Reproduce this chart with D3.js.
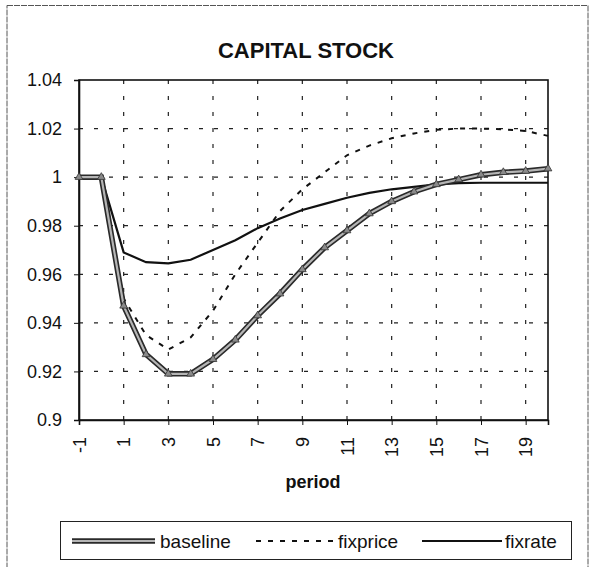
<!DOCTYPE html>
<html>
  <head>
    <meta charset="utf-8">
    <title>Capital Stock</title>
    <script src="https://d3js.org/d3.v7.min.js"></script>
    <style>
      body { margin: 0; background: #fff; }
      text { font-family: "Liberation Sans", Arial, sans-serif; fill: #111; }
    </style>
  </head>
  <body>
    <svg width="591" height="567"></svg>

    <script>
      // data
      const periods = [-1, 0, 1, 2, 3, 4, 5, 6, 7, 8, 9, 10, 11, 12, 13, 14, 15, 16, 17, 18, 19, 20];
      const baseline = [1, 1, 0.947, 0.927, 0.919, 0.919, 0.925, 0.933, 0.943, 0.952, 0.962, 0.971,
                        0.978, 0.985, 0.990, 0.994, 0.997, 0.999, 1.001, 1.002, 1.0025, 1.0035];
      const fixprice = [1, 1, 0.950, 0.935, 0.929, 0.934, 0.945, 0.960, 0.973, 0.986, 0.995, 1.002,
                        1.009, 1.013, 1.016, 1.018, 1.0195, 1.020, 1.020, 1.0197, 1.019, 1.017];
      const fixrate = [1, 1, 0.969, 0.965, 0.9645, 0.966, 0.970, 0.974, 0.979, 0.983, 0.9865, 0.989,
                       0.9915, 0.9935, 0.995, 0.996, 0.997, 0.9975, 0.9977, 0.9977, 0.9977, 0.9977];
      const xTickLabels = [-1, 1, 3, 5, 7, 9, 11, 13, 15, 17, 19];
      const yTicks = [0.9, 0.92, 0.94, 0.96, 0.98, 1, 1.02, 1.04];
      const gridY = [0.92, 0.94, 0.96, 0.98, 1, 1.02];
      const gridX = [1, 3, 5, 7, 9, 11, 13, 15, 17, 19];
      const legendNames = ["baseline", "fixprice", "fixrate"];

      const svg = d3.select("svg");

      const x = d3.scaleLinear().domain([-1, 20]).range([79, 548]);
      const y = d3.scaleLinear().domain([0.9, 1.04]).range([420, 80]);

      // outer frame of the scanned figure
      svg.append("rect")
        .attr("x", 7).attr("y", 5.5).attr("width", 581).attr("height", 600)
        .attr("fill", "none").attr("stroke", "#555").attr("stroke-width", 1)
        .attr("stroke-dasharray", "6,1");

      // title
      svg.append("text")
        .attr("x", 306).attr("y", 58)
        .attr("text-anchor", "middle")
        .attr("font-size", 22).attr("font-weight", "bold")
        .text("CAPITAL STOCK");

      // gridlines
      svg.append("g").selectAll("line").data(gridY).join("line")
        .attr("x1", x(-1)).attr("x2", x(20))
        .attr("y1", d => y(d)).attr("y2", d => y(d))
        .attr("stroke", "#222").attr("stroke-width", 1.2)
        .attr("stroke-dasharray", "4,11");
      svg.append("g").selectAll("line").data(gridX).join("line")
        .attr("x1", d => x(d)).attr("x2", d => x(d))
        .attr("y1", y(1.04)).attr("y2", y(0.9))
        .attr("stroke", "#222").attr("stroke-width", 1.2)
        .attr("stroke-dasharray", "4,12");

      // plot frame
      svg.append("rect")
        .attr("x", x(-1)).attr("y", y(1.04))
        .attr("width", x(20) - x(-1)).attr("height", y(0.9) - y(1.04))
        .attr("fill", "none").attr("stroke", "#111").attr("stroke-width", 1.6);

      // y axis
      const yAxis = d3.axisLeft(y).tickValues(yTicks).tickSize(5).tickPadding(12)
        .tickFormat(d => String(d));
      const gy = svg.append("g").attr("transform", `translate(${x(-1)},0)`).call(yAxis);
      gy.select(".domain").attr("stroke", "#111").attr("stroke-width", 1.6);
      gy.selectAll(".tick line").attr("stroke", "#111");
      gy.selectAll("text").attr("font-size", 18).attr("font-family", "Liberation Sans, Arial, sans-serif");

      // x axis (rotated labels)
      const xAxis = d3.axisBottom(x).tickValues(xTickLabels).tickSize(5).tickPadding(0)
        .tickFormat(d => String(d));
      const gx = svg.append("g").attr("transform", `translate(0,${y(0.9)})`).call(xAxis);
      gx.select(".domain").attr("stroke", "#111").attr("stroke-width", 1.6);
      gx.selectAll(".tick line").attr("stroke", "#111");
      gx.selectAll("text")
        .attr("font-size", 18).attr("font-family", "Liberation Sans, Arial, sans-serif")
        .attr("text-anchor", "end")
        .attr("transform", "translate(0,17) rotate(-90)")
        .attr("x", 0).attr("y", 0).attr("dy", "0.35em");

      svg.append("text")
        .attr("x", 313).attr("y", 488)
        .attr("text-anchor", "middle")
        .attr("font-size", 18).attr("font-weight", "bold")
        .text("period");

      const line = d3.line().x((d, i) => x(periods[i])).y(d => y(d));

      // fixrate: solid
      svg.append("path").datum(fixrate)
        .attr("d", line).attr("fill", "none")
        .attr("stroke", "#111").attr("stroke-width", 2.2);

      // fixprice: dashed
      svg.append("path").datum(fixprice)
        .attr("d", line).attr("fill", "none")
        .attr("stroke", "#111").attr("stroke-width", 2)
        .attr("stroke-dasharray", "5,7");

      // baseline: thick double line with triangle markers
      svg.append("path").datum(baseline)
        .attr("d", line).attr("fill", "none")
        .attr("stroke", "#2a2a2a").attr("stroke-width", 5.5);
      svg.append("path").datum(baseline)
        .attr("d", line).attr("fill", "none")
        .attr("stroke", "#b5b5b5").attr("stroke-width", 2.2);
      svg.append("g").selectAll("path").data(baseline).join("path")
        .attr("d", d3.symbol(d3.symbolTriangle, 26))
        .attr("transform", (d, i) => `translate(${x(periods[i])},${y(d)})`)
        .attr("fill", "#8a8a8a").attr("stroke", "#333").attr("stroke-width", 0.8);

      // legend
      const lg = svg.append("g");
      lg.append("rect")
        .attr("x", 60.5).attr("y", 521.5).attr("width", 511).attr("height", 38)
        .attr("fill", "#fff").attr("stroke", "#222").attr("stroke-width", 1);
      const legY = 541;
      const swatches = [[72, 155], [256, 334], [422, 502]];
      const textX = [160, 338, 505];
      swatches.forEach((s, i) => {
        if (i === 0) {
          lg.append("line").attr("x1", s[0]).attr("x2", s[1]).attr("y1", legY).attr("y2", legY)
            .attr("stroke", "#2a2a2a").attr("stroke-width", 5.5);
          lg.append("line").attr("x1", s[0]).attr("x2", s[1]).attr("y1", legY).attr("y2", legY)
            .attr("stroke", "#b5b5b5").attr("stroke-width", 2.2);
        } else {
          lg.append("line").attr("x1", s[0]).attr("x2", s[1]).attr("y1", legY).attr("y2", legY)
            .attr("stroke", "#111").attr("stroke-width", 2)
            .attr("stroke-dasharray", i === 1 ? "5,7" : null);
        }
        lg.append("text")
          .attr("x", textX[i]).attr("y", legY).attr("dy", "0.35em")
          .attr("font-size", 19)
          .text(legendNames[i]);
      });
    </script>
  </body>
</html>
